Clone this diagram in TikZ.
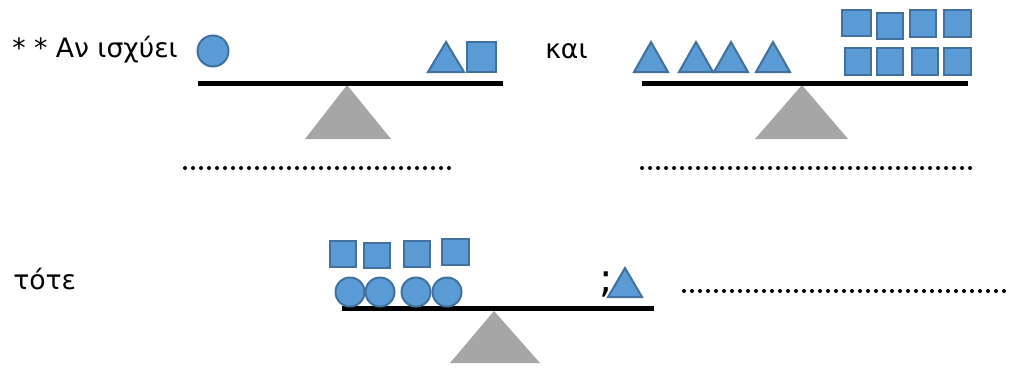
\documentclass[tikz,border=0pt]{standalone}
\usepackage{fontspec}
\setmainfont{DejaVu Sans}
\usepackage{xcolor}
\definecolor{shape_blue}{HTML}{5B9BD5}
\definecolor{shape_edge}{HTML}{41719C}
\definecolor{stand_gray}{HTML}{A6A6A6}
\usepackage{tikz}

\begin{document}
\begin{tikzpicture}[x = 0.75pt, y = -0.75pt,
    piece/.style = {fill=shape_blue, draw=shape_edge, line width=1.5pt},
    beam/.style = {line width=3.75pt},
    stand/.style = {fill=stand_gray},
    dotline/.style = {line width=3pt, line cap=round, dash pattern=on 0pt off 6pt},
    wordtext/.style = {font=\fontsize{20}{24}\selectfont, inner sep=0pt, anchor=base west}]
      \useasboundingbox (0,0) rectangle (1009,368);

      \node[wordtext] (given) at (12,57) {* * Αν ισχύει};
      \node[wordtext] (also) at (545,58) {και};
      \node[wordtext] (then) at (13,289) {τότε};
      \node[wordtext, font=\fontsize{30}{32}\selectfont] (ask) at (599,292) {;};

      % first balance
      \fill[stand] (347,85) -- (391,139) -- (305,139) -- cycle;
      \draw[beam] (198,83) -- (503,83);
      \draw[piece] (213,51) circle (15.5);
      \draw[piece] (428,72) -- (446,42) -- (464,72) -- cycle;
      \draw[piece] (467,42) rectangle (496,72);

      % second balance
      \fill[stand] (802,85) -- (848,139) -- (755,139) -- cycle;
      \draw[beam] (642,83) -- (968,83);
      \draw[piece] (634,72) -- (651,42) -- (668,72) -- cycle;
      \draw[piece] (679,72) -- (696,42) -- (713,72) -- cycle;
      \draw[piece] (714,72) -- (731,42) -- (748,72) -- cycle;
      \draw[piece] (756,72) -- (773,42) -- (790,72) -- cycle;
      \draw[piece] (842,10) rectangle (871,36);
      \draw[piece] (877,13) rectangle (903,39);
      \draw[piece] (910,10) rectangle (936,37);
      \draw[piece] (944,10) rectangle (971,37);
      \draw[piece] (845,48) rectangle (871,75);
      \draw[piece] (877,48) rectangle (903,75);
      \draw[piece] (912,48) rectangle (938,75);
      \draw[piece] (944,48) rectangle (971,75);

      \draw[dotline] (185,168) -- (455,168);
      \draw[dotline] (642,168) -- (977,168);

      % third balance
      \fill[stand] (494,311) -- (540,363) -- (450,363) -- cycle;
      \draw[beam] (342,308) -- (654,308);
      \draw[piece] (330,241) rectangle (356,267);
      \draw[piece] (364,243) rectangle (390,268);
      \draw[piece] (404,241) rectangle (430,267);
      \draw[piece] (442,239) rectangle (469,265);
      \draw[piece] (350,292) circle (14.5);
      \draw[piece] (380,292) circle (14.5);
      \draw[piece] (416,292) circle (14.5);
      \draw[piece] (447,292) circle (14.5);
      \draw[piece] (608,297) -- (625,268) -- (642,297) -- cycle;

      \draw[dotline] (684,291) -- (1006,291);
    \end{tikzpicture}
\end{document}
